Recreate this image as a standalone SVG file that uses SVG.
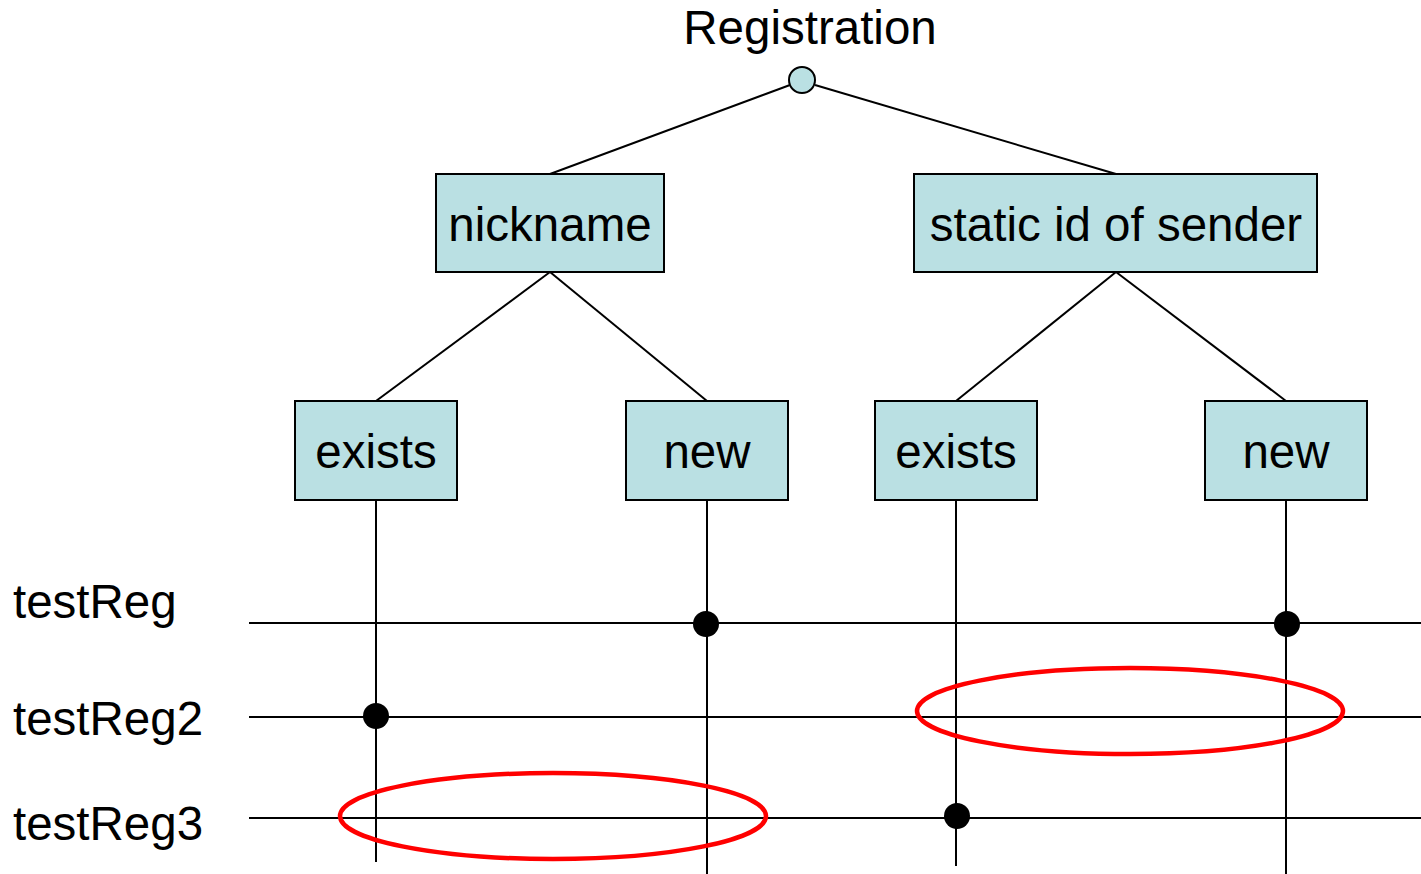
<svg xmlns="http://www.w3.org/2000/svg" width="1421" height="874" viewBox="0 0 1421 874">
<style>
.box{fill:#bae0e3;stroke:#000;stroke-width:2}
.t{font-family:"Liberation Sans",Arial,sans-serif;font-size:47.5px;fill:#000}
.c{text-anchor:middle}
.ln{stroke:#000;stroke-width:2;fill:none}
.dot{fill:#000}
.ov{fill:none;stroke:#f00;stroke-width:4.5}
</style>
<rect width="1421" height="874" fill="#fff"/>
<g id="connectors">
<line class="ln" x1="790" y1="85" x2="550" y2="174"/>
<line class="ln" x1="815" y1="85" x2="1116" y2="174"/>
<line class="ln" x1="550" y1="272" x2="376" y2="401"/>
<line class="ln" x1="550" y1="272" x2="707" y2="401"/>
<line class="ln" x1="1116" y1="272" x2="956" y2="401"/>
<line class="ln" x1="1116" y1="272" x2="1286" y2="401"/>
<line class="ln" x1="376" y1="500" x2="376" y2="862"/>
<line class="ln" x1="707" y1="500" x2="707" y2="874"/>
<line class="ln" x1="956" y1="500" x2="956" y2="866"/>
<line class="ln" x1="1286" y1="500" x2="1286" y2="874"/>
<line class="ln" x1="249" y1="623" x2="1421" y2="623"/>
<line class="ln" x1="249" y1="717" x2="1421" y2="717"/>
<line class="ln" x1="249" y1="818" x2="1421" y2="818"/>
</g>
<g id="root">
<text class="t c" x="810" y="44">Registration</text>
<circle cx="802" cy="80" r="13" fill="#bae0e3" stroke="#000" stroke-width="2"/>
</g>
<g id="nickname">
<rect class="box" x="436" y="174" width="228" height="98"/>
<text class="t c" x="550" y="241">nickname</text>
</g>
<g id="static">
<rect class="box" x="914" y="174" width="403" height="98"/>
<text class="t c" x="1116" y="241">static id of sender</text>
</g>
<g id="exists1">
<rect class="box" x="295" y="401" width="162" height="99"/>
<text class="t c" x="376" y="468">exists</text>
</g>
<g id="new1">
<rect class="box" x="626" y="401" width="162" height="99"/>
<text class="t c" x="707" y="468">new</text>
</g>
<g id="exists2">
<rect class="box" x="875" y="401" width="162" height="99"/>
<text class="t c" x="956" y="468">exists</text>
</g>
<g id="new2">
<rect class="box" x="1205" y="401" width="162" height="99"/>
<text class="t c" x="1286" y="468">new</text>
</g>
<g id="labels">
<text class="t" x="13" y="618">testReg</text>
<text class="t" x="13" y="735">testReg2</text>
<text class="t" x="13" y="840">testReg3</text>
</g>
<g id="dots">
<circle class="dot" cx="706" cy="624" r="13"/>
<circle class="dot" cx="1287" cy="624" r="13"/>
<circle class="dot" cx="376" cy="716" r="13"/>
<circle class="dot" cx="957" cy="816" r="13"/>
</g>
<g id="ovals">
<ellipse class="ov" cx="1130" cy="711" rx="213" ry="43"/>
<ellipse class="ov" cx="553" cy="816" rx="213" ry="43"/>
</g>
</svg>
